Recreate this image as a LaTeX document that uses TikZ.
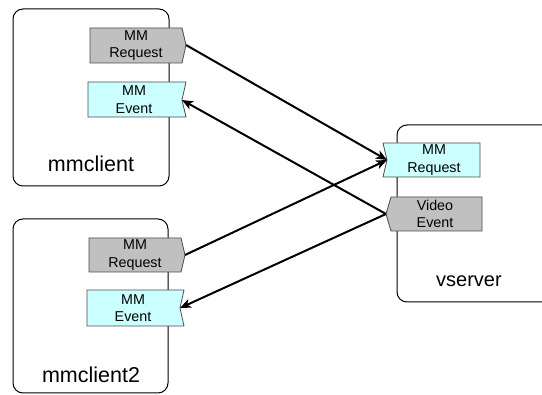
\documentclass[tikz,border=0pt]{standalone}
\usepackage{fontspec}
\setmainfont{Liberation Sans}
\usetikzlibrary{arrows.meta}
\definecolor{taggray}{RGB}{192,192,192}
\definecolor{tagcyan}{RGB}{204,255,255}
\tikzset{
  x=1pt, y=-1pt,
  hostbox/.style={draw=black, line width=1pt, rounded corners=10pt, fill=white},
  outtag/.style={draw=black!70, line width=0.8pt, fill=taggray},
  intag/.style={draw=black!70, line width=0.8pt, fill=tagcyan},
  taglabel/.style={font=\fontsize{14.3}{17.5}\selectfont, align=center, inner sep=0pt},
  hostlabel/.style={font=\fontsize{21.5}{24}\selectfont, inner sep=0pt},
  srvlabel/.style={font=\fontsize{20}{24}\selectfont, inner sep=0pt},
  msg/.style={line width=2pt, -{Stealth[length=11pt,width=9pt,inset=3pt]}}
}
\begin{document}
\begin{tikzpicture}
\useasboundingbox (0,0) rectangle (542,395);
\fill[white] (0,0) rectangle (542,395);

% host boxes
\draw[hostbox] (13,9) rectangle (169,186);
\draw[hostbox] (13,219) rectangle (168,393);
\draw[hostbox] (397,125) rectangle (560,302);

% mmclient: outgoing request and incoming event
\draw[outtag] (90,28) -- (182,28) -- (186,45) -- (182,63) -- (90,63) -- cycle;
\node[taglabel] (c1req) at (136,45.5) {MM\\Request};
\coordinate (c1reqtip) at (186,45);
\draw[intag] (88,82) -- (186,82) -- (182,100) -- (186,117) -- (88,117) -- cycle;
\node[taglabel] (c1evt) at (134,99.5) {MM\\Event};
\coordinate (c1evtnotch) at (182,100);
\node[hostlabel] (c1name) at (91,164) {mmclient};

% mmclient2: outgoing request and incoming event
\draw[outtag] (89,238) -- (181,238) -- (185,255) -- (181,272) -- (89,272) -- cycle;
\node[taglabel] (c2req) at (135,255) {MM\\Request};
\coordinate (c2reqtip) at (185,255);
\draw[intag] (87,290) -- (184,290) -- (180,308) -- (184,326) -- (87,326) -- cycle;
\node[taglabel] (c2evt) at (133,308) {MM\\Event};
\coordinate (c2evtnotch) at (180,308);
\node[hostlabel] (c2name) at (91,375) {mmclient2};

% vserver: incoming request and outgoing event
\draw[intag] (383,143) -- (480,143) -- (480,177) -- (383,177) -- (387,160) -- cycle;
\node[taglabel] (sreq) at (434,160) {MM\\Request};
\coordinate (sreqnotch) at (387,160);
\draw[outtag] (391,197) -- (482,197) -- (482,231) -- (391,231) -- (386,214) -- cycle;
\node[taglabel] (sevt) at (435,214) {Video\\Event};
\coordinate (sevttip) at (386,214);
\node[srvlabel] (sname) at (469,281) {vserver};

% messages
\draw[msg] (c1reqtip) -- (sreqnotch);
\draw[msg] (c2reqtip) -- (sreqnotch);
\draw[msg] (sevttip) -- (c1evtnotch);
\draw[msg] (sevttip) -- (c2evtnotch);
\end{tikzpicture}
\end{document}
